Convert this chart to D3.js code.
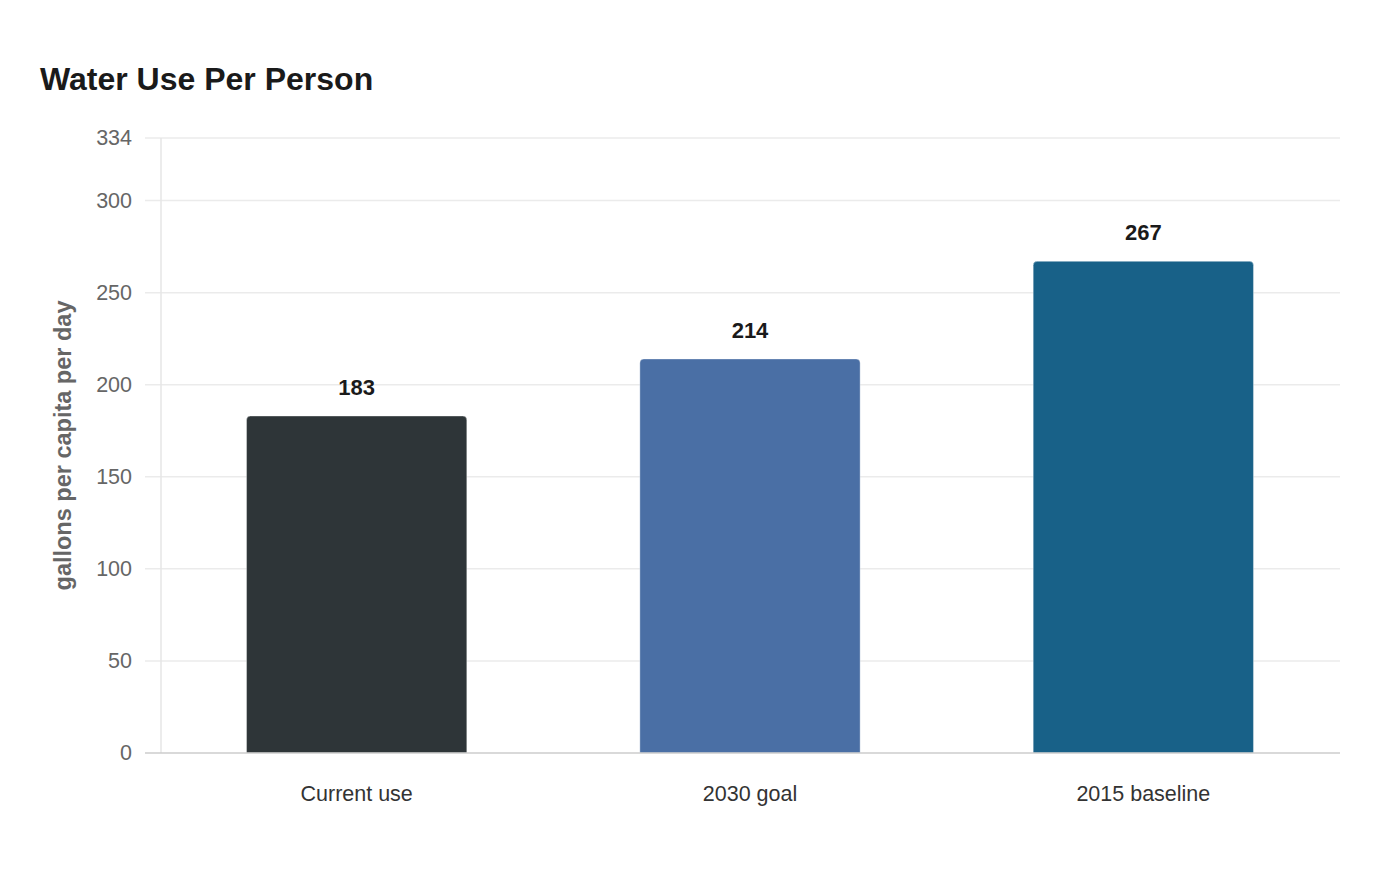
<!DOCTYPE html>
<html>
<head>
<meta charset="utf-8">
<script src="https://cdn.jsdelivr.net/npm/d3@7/dist/d3.min.js"></script>
<style>
  html, body { margin: 0; padding: 0; background: #fff; }
  svg { display: block; font-family: "Liberation Sans", Arial, sans-serif; }
</style>
</head>
<body>
<svg id="chart" width="1400" height="880"></svg>
<script>
const categories = ["Current use", "2030 goal", "2015 baseline"];
const values = [183, 214, 267];
const barColors = ["#2e3538", "#4a6fa5", "#186188"];
const yTicks = [0, 50, 100, 150, 200, 250, 300, 334];
const yMax = 334;
const titleText = "Water Use Per Person";
const yLabel = "gallons per capita per day";

const svg = d3.select("#chart");
const margin = { left: 160, right: 60, top: 138, bottom: 127 };
const W = 1400, H = 880;
const x0 = margin.left, x1 = W - margin.right;
const y0 = H - margin.bottom, y1 = margin.top;

const x = d3.scaleBand().domain(categories).range([x0, x1]).paddingInner(0.44).paddingOuter(0.22);
const y = d3.scaleLinear().domain([0, yMax]).range([y0, y1]);

svg.append("text")
  .attr("x", 40).attr("y", 90)
  .attr("font-size", 32).attr("font-weight", "bold").attr("fill", "#1a1a1a")
  .text(titleText);

// grid
const grid = svg.append("g");
grid.selectAll("line").data(yTicks.filter(d => d !== 0)).join("line")
  .attr("x1", x0 - 15).attr("x2", x1)
  .attr("y1", d => y(d)).attr("y2", d => y(d))
  .attr("stroke", "#ebebeb").attr("stroke-width", 1.5);

// y axis line
svg.append("line").attr("x1", x0 + 1).attr("x2", x0 + 1)
  .attr("y1", y1).attr("y2", y0).attr("stroke", "#e6e6e6").attr("stroke-width", 1.5);

// y tick labels
const yAxis = d3.axisLeft(y).tickValues(yTicks).tickSize(0).tickPadding(28);
const gy = svg.append("g").attr("transform", `translate(${x0},0)`).call(yAxis);
gy.select(".domain").remove();
gy.selectAll("text").attr("font-size", 21.5).attr("fill", "#666")
  .attr("font-family", "Liberation Sans, Arial, sans-serif");

// bars with rounded top corners
const r = 4;
function barPath(d, i) {
  const bx = x(categories[i]), bw = x.bandwidth();
  const top = y(d), bottom = y(0);
  return `M${bx},${bottom}V${top + r}Q${bx},${top} ${bx + r},${top}H${bx + bw - r}Q${bx + bw},${top} ${bx + bw},${top + r}V${bottom}Z`;
}
svg.append("g").selectAll("path").data(values).join("path")
  .attr("d", (d, i) => barPath(d, i))
  .attr("fill", (d, i) => barColors[i])
  .attr("stroke", "#ffffff").attr("stroke-opacity", 0.35).attr("stroke-width", 1);

// baseline
svg.append("line").attr("x1", x0 - 15).attr("x2", x1)
  .attr("y1", y(0)).attr("y2", y(0)).attr("stroke", "#cccccc").attr("stroke-width", 1.5);

// value labels
svg.append("g").selectAll("text").data(values).join("text")
  .attr("x", (d, i) => x(categories[i]) + x.bandwidth() / 2)
  .attr("y", d => y(d) - 21)
  .attr("text-anchor", "middle").attr("font-size", 22).attr("font-weight", "bold").attr("fill", "#1a1a1a")
  .text(d => d);

// x labels
const xAxis = d3.axisBottom(x).tickSize(0).tickPadding(33);
const gx = svg.append("g").attr("transform", `translate(0,${y0})`).call(xAxis);
gx.select(".domain").remove();
gx.selectAll("text").attr("font-size", 21.5).attr("fill", "#333")
  .attr("font-family", "Liberation Sans, Arial, sans-serif");

// y axis title
svg.append("text")
  .attr("transform", `translate(71,${(y0 + y1) / 2}) rotate(-90)`)
  .attr("text-anchor", "middle").attr("font-size", 23.5).attr("font-weight", "bold").attr("fill", "#666")
  .text(yLabel);
</script>
</body>
</html>
